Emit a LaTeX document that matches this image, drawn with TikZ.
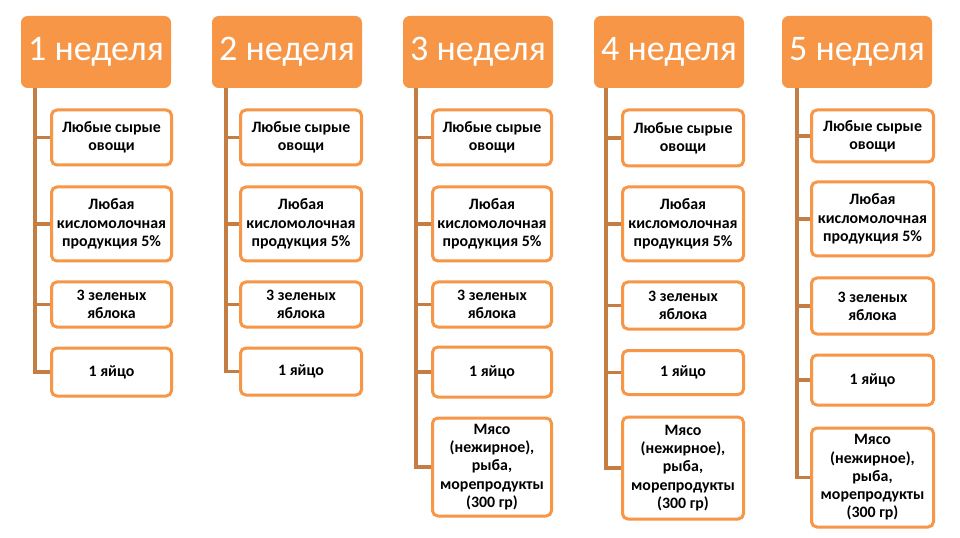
\documentclass[tikz,border=0pt]{standalone}
\usepackage{fontspec}
\setmainfont{Carlito}
\definecolor{hdr}{HTML}{F79646}
\definecolor{bord}{HTML}{F79646}
\definecolor{conncol}{HTML}{C47E44}
\tikzset{
  hdrbox/.style={fill=hdr, draw=none, rounded corners=5pt, text=white,
    font=\fontsize{27}{30}\selectfont, inner sep=0pt,
    minimum width=150*0.75pt, minimum height=72*0.75pt},
  itembox/.style={draw=bord, fill=white, line width=2.25pt, rounded corners=4pt,
    font=\bfseries\fontsize{11.9}{13.7}\selectfont, align=center, inner sep=0pt},
  conn/.style={draw=conncol, line width=2.4pt}
}
\newcommand{\ibox}[6]{% name, cx, cy, w, h, text
  \node[itembox, minimum width={(#4-3)*0.75pt}, minimum height={(#5-3)*0.75pt}] (#1) at (#2,#3) {#6};}
\begin{document}
\begin{tikzpicture}[x=0.75pt,y=-0.75pt]
\useasboundingbox (0,0) rectangle (960,538);
\fill[white] (0,0) rectangle (960,538);

% ---------- column 1
\node[hdrbox] (h1) at (96,52) {\raisebox{-1.2pt}{1 неделя}};
\coordinate (t1) at (35,88);
\ibox{a1}{111.5}{137.5}{123}{58}{Любые сырые\\овощи}
\ibox{a2}{111.5}{224}{123}{77}{Любая\\кисломолочная\\продукция 5\%}
\ibox{a3}{111.5}{304.5}{123}{48}{3 зеленых\\яблока}
\ibox{a4}{111.5}{372}{123}{51}{1 яйцо}

% ---------- column 2
\node[hdrbox] (h2) at (287,52) {\raisebox{-1.2pt}{2 неделя}};
\coordinate (t2) at (226,88);
\ibox{b1}{301}{137.5}{124}{58}{Любые сырые\\овощи}
\ibox{b2}{301}{224}{124}{77}{Любая\\кисломолочная\\продукция 5\%}
\ibox{b3}{301}{304.5}{124}{48}{3 зеленых\\яблока}
\ibox{b4}{301}{371.5}{124}{50}{1 яйцо}

% ---------- column 3
\node[hdrbox] (h3) at (478,52) {\raisebox{-1.2pt}{3 неделя}};
\coordinate (t3) at (416,88);
\ibox{c1}{492}{137.5}{122}{58}{Любые сырые\\овощи}
\ibox{c2}{492}{224}{122}{77}{Любая\\кисломолочная\\продукция 5\%}
\ibox{c3}{492}{304.5}{122}{48}{3 зеленых\\яблока}
\ibox{c4}{492}{372}{122}{53}{1 яйцо}
\ibox{c5}{492}{467}{122}{101}{Мясо\\(нежирное),\\рыба,\\морепродукты\\(300 гр)}

% ---------- column 4
\node[hdrbox] (h4) at (669,52) {\raisebox{-1.2pt}{4 неделя}};
\coordinate (t4) at (606,88);
\ibox{d1}{683}{138}{124}{59}{Любые сырые\\овощи}
\ibox{d2}{683}{224}{124}{77}{Любая\\кисломолочная\\продукция 5\%}
\ibox{d3}{683}{305.5}{124}{50}{3 зеленых\\яблока}
\ibox{d4}{683}{372.5}{124}{47}{1 яйцо}
\ibox{d5}{683}{468}{124}{105}{Мясо\\(нежирное),\\рыба,\\морепродукты\\(300 гр)}

% ---------- column 5
\node[hdrbox] (h5) at (857,52) {\raisebox{-1.2pt}{5 неделя}};
\coordinate (t5) at (797,88);
\ibox{e1}{872.5}{136}{125}{55}{Любые сырые\\овощи}
\ibox{e2}{872.5}{219}{125}{77}{Любая\\кисломолочная\\продукция 5\%}
\ibox{e3}{872.5}{306}{125}{59}{3 зеленых\\яблока}
\ibox{e4}{872.5}{380}{125}{53}{1 яйцо}
\ibox{e5}{872.5}{477.5}{125}{102}{Мясо\\(нежирное),\\рыба,\\морепродукты\\(300 гр)}

% ---------- connectors
\draw[conn] (t1) |- (a4.west);
\foreach \n in {a1,a2,a3} \draw[conn] (t1 |- \n.west) -- (\n.west);
\draw[conn] (t2) |- (b4.west);
\foreach \n in {b1,b2,b3} \draw[conn] (t2 |- \n.west) -- (\n.west);
\draw[conn] (t3) |- (c5.west);
\foreach \n in {c1,c2,c3,c4} \draw[conn] (t3 |- \n.west) -- (\n.west);
\draw[conn] (t4) |- (d5.west);
\foreach \n in {d1,d2,d3,d4} \draw[conn] (t4 |- \n.west) -- (\n.west);
\draw[conn] (t5) |- (e5.west);
\foreach \n in {e1,e2,e3,e4} \draw[conn] (t5 |- \n.west) -- (\n.west);
\end{tikzpicture}
\end{document}
